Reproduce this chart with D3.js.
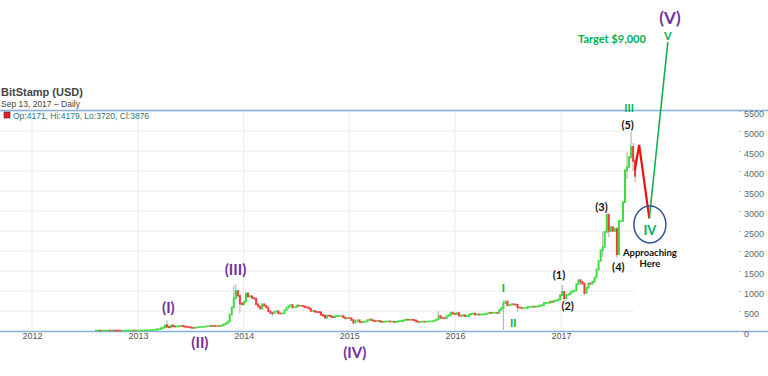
<!DOCTYPE html>
<html>
<head>
<meta charset="utf-8">
<script src="https://cdn.jsdelivr.net/npm/d3@7"></script>
<style>
  body { margin: 0; background: #fff; }
  svg { display: block; font-family: "Liberation Sans", Arial, sans-serif; }
</style>
</head>
<body>
<svg id="chart" width="768" height="376"></svg>
<script>
// weekly candles, first week starts on this Monday
const startWeek = "2012-08-06";

// weekly closes (USD), Aug 2012 -> Sep 2017
const weeklyCloses = [
  // 2012 Aug..Dec
  10.9, 11.6, 9.8, 10.5,  10.6, 11.2, 12.2, 12.1,  12.6, 11.9, 11.8, 11.6, 10.8,
  10.9, 11.1, 11.8, 12.3,  13.3, 13.5, 13.2, 13.4, 13.5,
  // 2013
  13.9, 14.6, 17.6, 19.2,  20.6, 25.0, 29.6, 31.0,  46, 47, 71, 89,  141, 105, 90, 140, 117,
  111, 115, 122, 128,  118, 103, 100, 95,  80, 76, 89, 94, 98,  102, 106, 116, 120,
  128, 126, 125, 121, 127,  125, 140, 170, 195,  240, 410, 590, 820,  1000, 880, 690, 665, 735,
  // 2014
  940, 860, 870, 825,  810, 670, 615, 560,  670, 635, 590, 495, 450,  440, 480, 495, 440,
  435, 445, 520, 580,  625, 650, 590, 595, 640,  630, 630, 620, 595,  590, 560, 500, 505,
  480, 475, 470, 405, 385,  330, 385, 380, 355,  345, 370, 375, 375,  375, 345, 315, 325, 320,
  // 2015
  275, 210, 250, 270,  225, 220, 235, 240,  275, 290, 265, 250, 245,  255, 235, 225, 230,
  240, 240, 235, 235,  225, 230, 245, 245, 255,  275, 285, 280, 285,  280, 265, 235, 225, 230,
  235, 230, 235, 240,  240, 250, 265, 290,  375, 330, 325, 320, 375,  395, 460, 435, 420,
  // 2016
  450, 385, 380, 395,  370, 375, 410, 430, 435,  410, 415, 410, 415,  420, 425, 440, 455,
  450, 455, 455, 450, 530,  575, 690, 740, 640,  655, 670, 665, 655,  590, 585, 570, 575, 575,
  605, 605, 610, 605,  610, 620, 640, 650, 700,  705, 705, 735, 730,  755, 765, 790, 895,
  // 2017 Jan..Sep
  980, 820, 900, 920, 965,  1000, 1010, 1170, 1270,  1230, 1180, 950, 1080,  1190, 1180, 1230, 1340,
  1540, 1750, 2020, 2100, 2480,  2900, 2500, 2600, 2500,  2550, 1920, 2750, 2750, 3220,
  4020, 4100, 4350, 4600,  4250, 3876
];

// weeks with visible wicks
const wickWeeks = ["2013-04-08", "2013-11-25", "2013-12-02", "2013-12-16", "2014-04-07", "2015-01-12",
  "2015-11-02", "2016-06-13", "2016-08-01", "2017-01-02", "2017-01-09", "2017-03-06", "2017-03-20",
  "2017-05-22", "2017-06-05", "2017-06-12", "2017-07-10", "2017-08-14", "2017-08-28", "2017-09-04", "2017-09-11"];
const wickHighs = [266, 1130, 1163, 700, 480, 290, 495, 770, 610, 1150, 980, 1290, 1180,
  2480, 2980, 2950, 2600, 4480, 4980, 4700, 4350];
const wickLows = [90, 800, 870, 455, 360, 170, 300, 30, 480, 870, 750, 1150, 890,
  1850, 2450, 2350, 1830, 3800, 4300, 4000, 3720];

const yTicks = [0, 500, 1000, 1500, 2000, 2500, 3000, 3500, 4000, 4500, 5000, 5500];
const yearTicks = [2012, 2013, 2014, 2015, 2016, 2017];

// hand-drawn wave annotations (date, price level)
const degreeLabels = ["(I)", "(II)", "(III)", "(IV)", "(V)"];
const degreeDates = ["2013-04-16", "2013-08-03", "2013-12-04", "2015-01-20", "2018-01-12"];
const degreeValues = [593, -268, 1550, -530, 7850];

const minorLabels = ["I", "II", "III", "IV", "V"];
const minorDates = ["2016-06-16", "2016-07-20", "2017-08-24", "2017-11-04", "2018-01-05"];
const minorValues = [1100, 208, 5600, 2525, 7380];

const countLabels = ["(1)", "(2)", "(3)", "(4)", "(5)"];
const countDates = ["2016-12-25", "2017-01-24", "2017-05-21", "2017-07-18", "2017-08-19"];
const countValues = [1425, 650, 3125, 1625, 5175];

const redPathDates = ["2017-09-13", "2017-09-28", "2017-11-02"];
const redPathValues = [4025, 4650, 2818];
const greenPathDates = ["2017-11-02", "2018-01-05"];
const greenPathValues = [2818, 7225];

const parse = d3.utcParse("%Y-%m-%d");
const svg = d3.select("#chart");

const x = d3.scaleUtc()
  .domain([Date.UTC(2012, 0, 1), Date.UTC(2017, 0, 1)])
  .range([32, 561]);
const y = d3.scaleLinear()
  .domain([0, 5500])
  .range([331, 111]);

// build candles: open is the previous close
const t0 = parse(startWeek);
const candles = weeklyCloses.map((c, i) => {
  const date = d3.utcDay.offset(t0, i * 7);
  const open = i === 0 ? c : weeklyCloses[i - 1];
  const key = d3.utcFormat("%Y-%m-%d")(date);
  const w = wickWeeks.indexOf(key);
  return {
    date, open, close: c,
    high: w >= 0 ? wickHighs[w] : Math.max(open, c),
    low: w >= 0 ? wickLows[w] : Math.min(open, c)
  };
});

// grid
svg.append("g")
  .selectAll("line")
  .data(yTicks.filter(d => d > 0))
  .join("line")
  .attr("x1", 0).attr("x2", 634)
  .attr("y1", d => y(d)).attr("y2", d => y(d))
  .attr("stroke", "#ececec");

svg.append("g")
  .selectAll("line")
  .data(yearTicks)
  .join("line")
  .attr("x1", d => x(Date.UTC(d, 0, 1))).attr("x2", d => x(Date.UTC(d, 0, 1)))
  .attr("y1", 110).attr("y2", 331)
  .attr("stroke", "#ececec");

// frame lines
svg.append("line").attr("x1", 0).attr("x2", 768).attr("y1", 110.5).attr("y2", 110.5)
  .attr("stroke", "#88aede").attr("stroke-width", 1.5);
svg.append("line").attr("x1", 0).attr("x2", 768).attr("y1", 331.5).attr("y2", 331.5)
  .attr("stroke", "#88aede").attr("stroke-width", 1.5);

// right axis
const yAxis = svg.append("g")
  .attr("transform", "translate(739,0)")
  .call(d3.axisRight(y).tickValues(yTicks).tickFormat(d3.format("d")).tickSize(2).tickPadding(3));
yAxis.select(".domain").remove();
yAxis.selectAll("line").attr("stroke", "#bbb");
yAxis.selectAll("text").attr("fill", "#666").style("font-size", "9px").attr("dy", "0.6em");

// bottom axis
const xAxis = svg.append("g")
  .attr("transform", "translate(0,331)")
  .call(d3.axisBottom(x).tickValues(yearTicks.map(d => new Date(Date.UTC(d, 0, 1))))
    .tickFormat(d3.utcFormat("%Y")).tickSize(0).tickPadding(2));
xAxis.select(".domain").remove();
xAxis.selectAll("text").attr("fill", "#555").style("font-size", "9px");

// candles
const cx = d => x(d3.utcDay.offset(d.date, 3));
const plot = svg.append("g");
plot.selectAll("line.wick")
  .data(candles.filter(d => d.high > Math.max(d.open, d.close) || d.low < Math.min(d.open, d.close)))
  .join("line")
  .attr("class", "wick")
  .attr("x1", cx).attr("x2", cx)
  .attr("y1", d => y(d.high)).attr("y2", d => y(d.low))
  .attr("stroke", "#b8b8b8").attr("stroke-width", 1.2);

plot.selectAll("rect.body")
  .data(candles)
  .join("rect")
  .attr("class", "body")
  .attr("x", d => cx(d) - 1)
  .attr("width", 2)
  .attr("y", d => Math.min(y(d.open), y(d.close)) - 0.8)
  .attr("height", d => Math.abs(y(d.open) - y(d.close)) + 1.6)
  .attr("fill", d => d.close >= d.open ? "#3ddc3d" : "#ee3b3b");

// title + legend
svg.append("text").attr("x", 1).attr("y", 96).text("BitStamp (USD)")
  .style("font-size", "11px").style("font-weight", "bold").attr("fill", "#444");
svg.append("text").attr("x", 1).attr("y", 107).text("Sep 13, 2017 \u2013 Daily")
  .style("font-size", "8.5px").attr("fill", "#444");
svg.append("rect").attr("x", 4).attr("y", 112).attr("width", 6).attr("height", 6)
  .attr("fill", "#e02020").attr("stroke", "#333").attr("stroke-width", 0.6);
svg.append("text").attr("x", 13).attr("y", 118.5).text("Op:4171, Hi:4179, Lo:3720, Cl:3876")
  .style("font-size", "8.5px").attr("fill", "#2f7474");

// annotation lines
const line = d3.line().x(d => x(parse(d[0]))).y(d => y(d[1]));
svg.append("path")
  .attr("d", line(redPathDates.map((d, i) => [d, redPathValues[i]])))
  .attr("fill", "none").attr("stroke", "#f01010").attr("stroke-width", 2.2);
svg.append("path")
  .attr("d", line(greenPathDates.map((d, i) => [d, greenPathValues[i]])))
  .attr("fill", "none").attr("stroke", "#10b050").attr("stroke-width", 1.6);

svg.append("ellipse")
  .attr("cx", x(parse("2017-11-04"))).attr("cy", y(2662))
  .attr("rx", 16).attr("ry", 18.5)
  .attr("fill", "none").attr("stroke", "#2f5597").attr("stroke-width", 1.5);

const annot = svg.append("g").style("font-family", "Lato, 'Open Sans', sans-serif")
  .style("font-weight", "bold").attr("text-anchor", "middle").attr("dominant-baseline", "central");

annot.selectAll("text.deg")
  .data(degreeLabels)
  .join("text")
  .attr("class", "deg")
  .attr("x", (d, i) => x(parse(degreeDates[i])))
  .attr("y", (d, i) => y(degreeValues[i]))
  .style("font-size", (d, i) => i === 4 ? "17px" : "15px")
  .attr("fill", "#7030a0")
  .text(d => d);

annot.selectAll("text.minor")
  .data(minorLabels)
  .join("text")
  .attr("class", "minor")
  .attr("x", (d, i) => x(parse(minorDates[i])))
  .attr("y", (d, i) => y(minorValues[i]))
  .style("font-size", (d, i) => i === 3 ? "13px" : "11px")
  .attr("fill", "#00b050")
  .text(d => d);

annot.selectAll("text.count")
  .data(countLabels)
  .join("text")
  .attr("class", "count")
  .attr("x", (d, i) => x(parse(countDates[i])))
  .attr("y", (d, i) => y(countValues[i]))
  .style("font-size", "11px")
  .attr("fill", "#111")
  .text(d => d);

annot.append("text")
  .attr("x", x(parse("2017-06-26"))).attr("y", y(7325))
  .style("font-size", "11px").attr("fill", "#00b050")
  .text("Target $9,000");
annot.append("text")
  .attr("x", x(parse("2017-11-04"))).attr("y", y(1975))
  .style("font-size", "9.5px").attr("fill", "#111")
  .text("Approaching");
annot.append("text")
  .attr("x", x(parse("2017-11-04"))).attr("y", y(1700))
  .style("font-size", "9.5px").attr("fill", "#111")
  .text("Here");
</script>
</body>
</html>
